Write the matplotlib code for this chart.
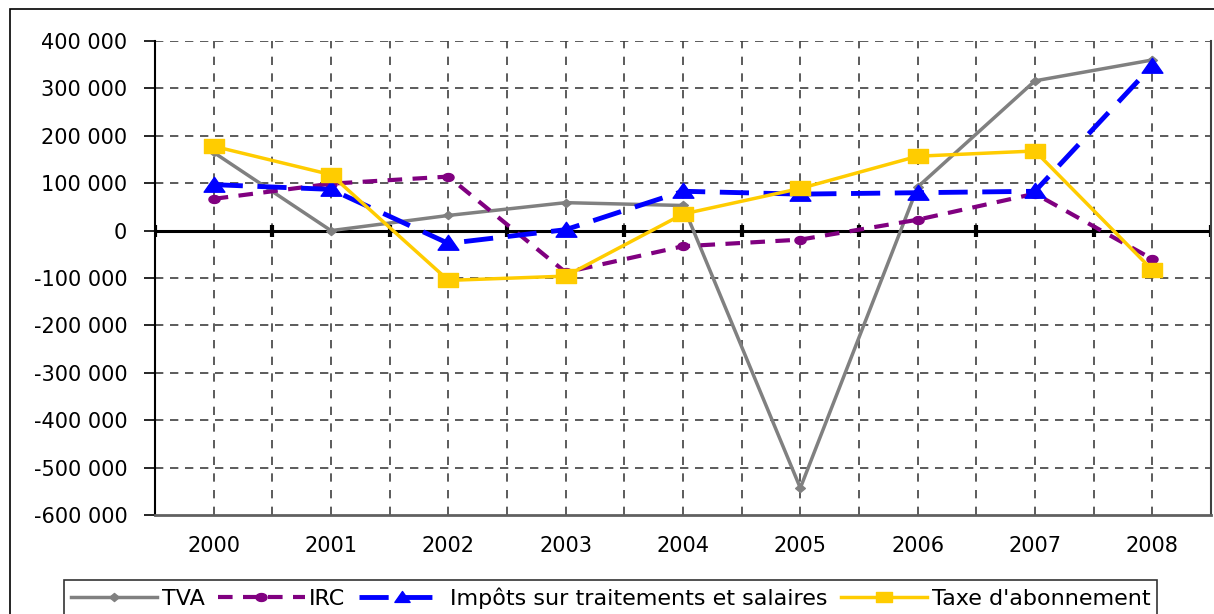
import numpy as np
import matplotlib.pyplot as plt
from matplotlib.patches import Rectangle
from matplotlib.path import Path

plt.rcParams['font.family'] = ['DejaVu Sans']

# ---------------------------------------------------
# données
# ---------------------------------------------------
annees = ["2000", "2001", "2002", "2003", "2004", "2005", "2006", "2007", "2008"]

tva = [165000, 0, 32000, 59000, 53000, -543000, 92000, 316000, 360000]
irc = [67000, 99000, 114000, -88000, -33000, -19000, 23000, 78000, -60000]
impots = [97000, 87000, -27000, 2000, 83000, 77000, 80000, 83000, 348000]
taxe = [178000, 118000, -105000, -96000, 35000, 89000, 157000, 168000, -83000]

y_ticks = [400000, 300000, 200000, 100000, 0, -100000, -200000,
           -300000, -400000, -500000, -600000]


def fmt(v):
    s = "{:,}".format(abs(v)).replace(",", " ")
    return ("-" if v < 0 else "") + s


# marqueurs élargis (l'original est étiré horizontalement)
k = 1.4
m_carre = Path([[-k, -1], [k, -1], [k, 1], [-k, 1], [-k, -1]], closed=True)
m_tri = Path([[-k, -0.9], [k, -0.9], [0, 1.1], [-k, -0.9]], closed=True)
t = np.linspace(0, 2 * np.pi, 40)
m_ellipse = Path(np.column_stack([k * np.cos(t), np.sin(t)]), closed=True)
m_losange = Path([[0, -1], [1.2, 0], [0, 1], [-1.2, 0], [0, -1]], closed=True)

fig = plt.figure(figsize=(12.14, 6.14), dpi=100)
ax = fig.add_axes([0.1277, 0.1612, 0.8698, 0.772])

x = np.arange(len(annees))

ax.plot(x, tva, color="#808080", lw=2.5, marker=m_losange, ms=7,
        label="TVA", zorder=3)
ax.plot(x, irc, color="#800080", lw=3, ls=(0, (3.5, 2.5)), marker=m_ellipse,
        ms=8, label="IRC", zorder=3)
ax.plot(x, impots, color="#0000FF", lw=3.5, ls=(0, (6, 3)), marker=m_tri,
        ms=15, label="Impôts sur traitements et salaires", zorder=4)
ax.plot(x, taxe, color="#FFCC00", lw=2.5, marker=m_carre, ms=14.5,
        label="Taxe d'abonnement", zorder=5)

ax.set_xlim(-0.5, len(annees) - 0.5)
ax.set_ylim(-600000, 400000)

ax.set_yticks(y_ticks)
ax.set_yticklabels([fmt(v) for v in y_ticks], fontsize=15)
ax.set_xticks(x)
ax.set_xticklabels(annees, fontsize=15)
ax.tick_params(axis="x", length=0, pad=15)
ax.tick_params(axis="y", direction="out", length=8, width=1.2, pad=12)

# grille : lignes horizontales et verticales (centres + limites)
for v in y_ticks[:-1]:
    if v != 0:
        ax.axhline(v, color="#404040", lw=1.2, ls=(0, (5, 4)), zorder=1)
for xv in np.arange(-0.5, len(annees), 0.5)[1:-1]:
    ax.axvline(xv, color="#404040", lw=1.2, ls=(0, (5, 5)), zorder=1)

# axe zéro avec petites graduations
ax.axhline(0, color="black", lw=2.2, zorder=2)
ax.plot(np.arange(-0.5, len(annees), 1.0), np.zeros(len(annees) + 1),
        ls="none", marker="|", ms=9, mew=3, color="black", zorder=2)

ax.spines["left"].set_color("black")
ax.spines["left"].set_linewidth(1.5)
ax.spines["right"].set_color("#404040")
ax.spines["right"].set_linewidth(1.5)
ax.spines["top"].set_visible(False)
ax.spines["bottom"].set_color("#606060")
ax.spines["bottom"].set_linewidth(2)
ax.spines["bottom"].set_linestyle((0, (4, 1)))

# cadre extérieur
fig.patches.append(Rectangle((10 / 1214, -0.2), 1.2, 1.2 - 9 / 614,
                             transform=fig.transFigure, fill=False,
                             edgecolor="black", lw=1.2, clip_on=False))

leg = fig.legend(loc="lower center", bbox_to_anchor=(0.503, -0.002), ncol=4,
                 fontsize=16, frameon=True, fancybox=False, handlelength=3.9,
                 handletextpad=0.2, columnspacing=0.6, borderpad=0.3,
                 borderaxespad=0)
leg.get_frame().set_edgecolor("black")
leg.get_frame().set_linewidth(1.2)
for h in leg.legend_handles:
    h.set_markersize(min(h.get_markersize(), 11))

fig.savefig("out.png", dpi=100)
